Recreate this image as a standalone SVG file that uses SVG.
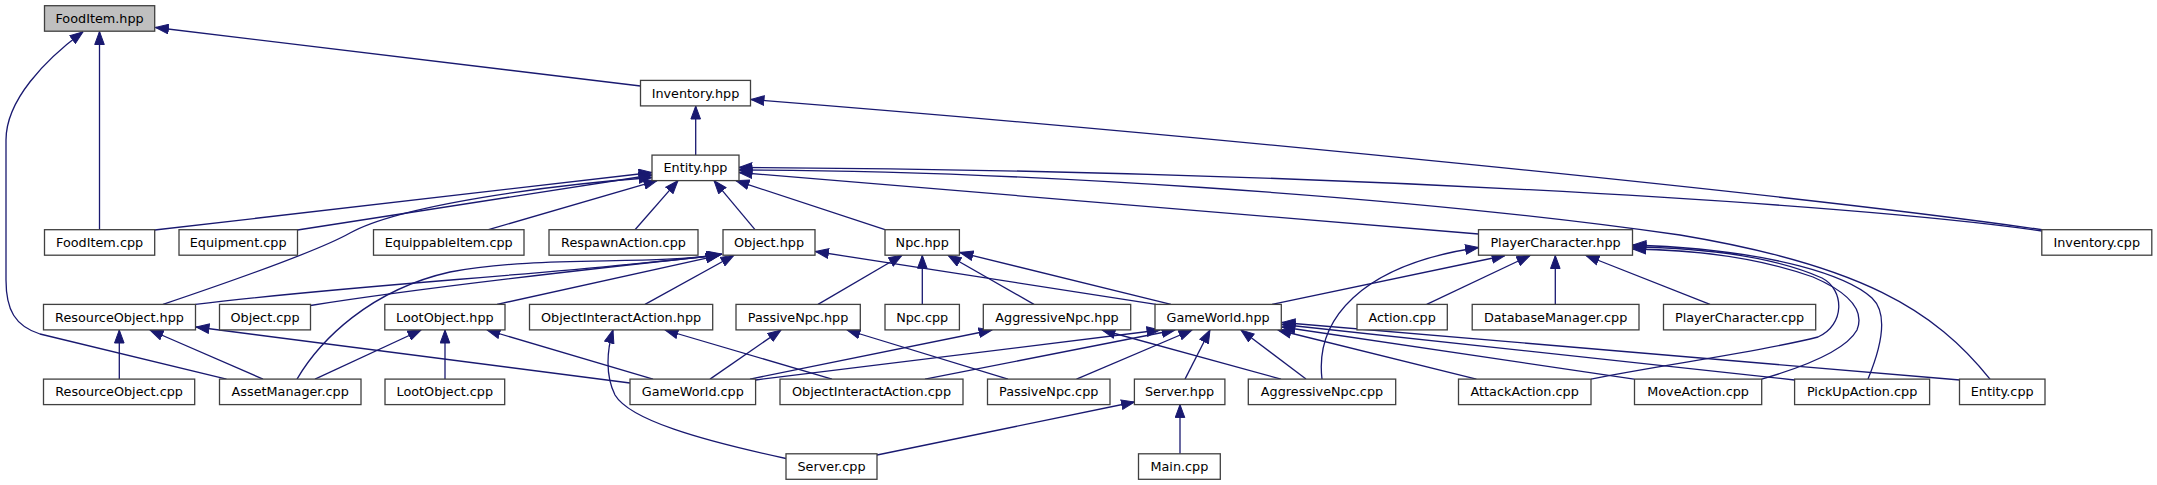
<svg xmlns="http://www.w3.org/2000/svg" width="2157" height="485" viewBox="0 0 2157 485">
<style>
.n rect{fill:#fff;stroke:#404040;stroke-width:1.3}
.n text{font-family:"DejaVu Sans","Liberation Sans",sans-serif;font-size:12.8px;text-anchor:middle;fill:#000}
.e path{fill:none;stroke:#191970;stroke-width:1.3;marker-end:url(#a)}
</style>
<defs>
<marker id="a" markerUnits="userSpaceOnUse" viewBox="0 0 14 11" markerWidth="14" markerHeight="11" refX="13.5" refY="5.5" orient="auto">
<path d="M0.5,0.7 L13.5,5.5 L0.5,10.3 Z" fill="#191970" stroke="#191970" stroke-width="1"/>
</marker>
</defs>
<rect width="2157" height="485" fill="#fff"/>
<g id="edges" class="e">
<path d="M640.5,86 L155.5,27.5"/>
<path d="M99.5,229.7 L99.5,31.5"/>
<path d="M226.5,379.1 L40,334 C15,326 6,310 6,280 L6,140 C6,100 45,60 83,31.8"/>
<path d="M695.7,155.1 L695.7,106"/>
<path d="M2042,229.7 C1800,195 1200,135 751,99.5"/>
<path d="M154.7,230 L652,172.5"/>
<path d="M297.5,230 L652,175"/>
<path d="M163,304.4 C250,275 320,250 350,233 C400,205 550,185 652,177.5"/>
<path d="M488.5,229.7 L657,180.6"/>
<path d="M635,229.7 L678,180.6"/>
<path d="M755,229.7 L714,180.6"/>
<path d="M885,229.7 L736,180.6"/>
<path d="M1478.5,234 L739,172.5"/>
<path d="M2042,231 C1850,203 1300,170 739,167.5"/>
<path d="M1990,379.1 C1935,310 1860,265 1680,235 C1400,195 1000,170 739,170"/>
<path d="M195.5,304.4 C350,285 550,275 720,254.8"/>
<path d="M310.4,305.5 C420,288 580,270 720,255"/>
<path d="M497,304.4 L719,255.3"/>
<path d="M645,304.4 L734,255.3"/>
<path d="M297,379.1 C320,340 370,290 450,272 C540,255 650,266 722,254"/>
<path d="M1156,304.4 L815.5,251.5"/>
<path d="M818,304.4 L902,255.3"/>
<path d="M922.3,304.4 L922.3,255.3"/>
<path d="M1034,304.4 L948,255.3"/>
<path d="M1171,304.4 L960,252.5"/>
<path d="M1272,304.4 L1505,255.5"/>
<path d="M1322,379.1 C1315,320 1360,265 1478.5,247.5"/>
<path d="M1426.7,304.4 L1530,255.5"/>
<path d="M1555.3,304.4 L1555.3,255.5"/>
<path d="M1710,304.4 L1586,255.5"/>
<path d="M1591,379.1 C1660,365 1760,352 1818,337 C1845,325 1845,290 1822,278 C1770,255 1700,248 1633,247"/>
<path d="M1761.7,379.1 C1800,368 1845,352 1857,330 C1865,310 1850,293 1813,277 C1760,258 1700,250 1633,249"/>
<path d="M1868,379.1 C1880,350 1890,315 1872,298 C1850,278 1780,250 1633,245"/>
<path d="M755.6,380 L1160,330"/>
<path d="M750,379.1 L992,330"/>
<path d="M710,379.1 L781,330"/>
<path d="M630,383 L196,327"/>
<path d="M653,379.1 L487,330"/>
<path d="M925,379.1 L1175,330"/>
<path d="M832,379.1 L665,330"/>
<path d="M1008,379.1 L847,330"/>
<path d="M1076.5,379.1 L1192,330"/>
<path d="M1185,379.1 L1210,330"/>
<path d="M1281,379.1 L1102,330"/>
<path d="M1306,379.1 L1241,330"/>
<path d="M1476.4,379.1 L1278,330"/>
<path d="M1634,379.1 L1282,327"/>
<path d="M1794.6,380 L1282,324.5"/>
<path d="M1960,380 L1282,322.5"/>
<path d="M1180,453.8 L1180,404.6"/>
<path d="M877,455 L1134.5,402"/>
<path d="M786,458.5 C700,440 630,420 615,395 C605,375 607,350 613,330"/>
<path d="M263,379.1 L150,330"/>
<path d="M119.3,379.1 L119.3,330"/>
<path d="M315,379.1 L421,330"/>
<path d="M445,379.1 L445,330"/>
</g>
<g id="FoodItem_hpp" class="n"><rect x="44.5" y="5.7" width="110.2" height="25.5" style="fill:#bfbfbf"/><text x="99.6" y="23">FoodItem.hpp</text></g>
<g id="Inventory_hpp" class="n"><rect x="640.5" y="80.4" width="110" height="25.5"/><text x="695.5" y="97.7">Inventory.hpp</text></g>
<g id="Entity_hpp" class="n"><rect x="652" y="155.1" width="87" height="25.5"/><text x="695.5" y="172.4">Entity.hpp</text></g>
<g id="FoodItem_cpp" class="n"><rect x="44.5" y="229.7" width="110.2" height="25.5"/><text x="99.6" y="247">FoodItem.cpp</text></g>
<g id="Equipment_cpp" class="n"><rect x="179" y="229.7" width="118.5" height="25.5"/><text x="238.2" y="247">Equipment.cpp</text></g>
<g id="EquippableItem_cpp" class="n"><rect x="373.5" y="229.7" width="150.5" height="25.5"/><text x="448.7" y="247">EquippableItem.cpp</text></g>
<g id="RespawnAction_cpp" class="n"><rect x="549" y="229.7" width="149" height="25.5"/><text x="623.5" y="247">RespawnAction.cpp</text></g>
<g id="Object_hpp" class="n"><rect x="723" y="229.7" width="92" height="25.5"/><text x="769" y="247">Object.hpp</text></g>
<g id="Npc_hpp" class="n"><rect x="885" y="229.7" width="74.4" height="25.5"/><text x="922.2" y="247">Npc.hpp</text></g>
<g id="PlayerCharacter_hpp" class="n"><rect x="1478.5" y="229.7" width="154" height="25.5"/><text x="1555.5" y="247">PlayerCharacter.hpp</text></g>
<g id="Inventory_cpp" class="n"><rect x="2041.8" y="229.7" width="110" height="25.5"/><text x="2096.8" y="247">Inventory.cpp</text></g>
<g id="ResourceObject_hpp" class="n"><rect x="43.5" y="304.4" width="152" height="25.5"/><text x="119.5" y="321.7">ResourceObject.hpp</text></g>
<g id="Object_cpp" class="n"><rect x="219.5" y="304.4" width="91" height="25.5"/><text x="265" y="321.7">Object.cpp</text></g>
<g id="LootObject_hpp" class="n"><rect x="384.8" y="304.4" width="120.2" height="25.5"/><text x="444.9" y="321.7">LootObject.hpp</text></g>
<g id="ObjectInteractAction_hpp" class="n"><rect x="529.5" y="304.4" width="183.2" height="25.5"/><text x="621.1" y="321.7">ObjectInteractAction.hpp</text></g>
<g id="PassiveNpc_hpp" class="n"><rect x="736" y="304.4" width="124.3" height="25.5"/><text x="798.1" y="321.7">PassiveNpc.hpp</text></g>
<g id="Npc_cpp" class="n"><rect x="885" y="304.4" width="74.4" height="25.5"/><text x="922.2" y="321.7">Npc.cpp</text></g>
<g id="AggressiveNpc_hpp" class="n"><rect x="983.3" y="304.4" width="147.4" height="25.5"/><text x="1057" y="321.7">AggressiveNpc.hpp</text></g>
<g id="GameWorld_hpp" class="n"><rect x="1155" y="304.4" width="126.3" height="25.5"/><text x="1218.1" y="321.7">GameWorld.hpp</text></g>
<g id="Action_cpp" class="n"><rect x="1357" y="304.4" width="90.3" height="25.5"/><text x="1402.1" y="321.7">Action.cpp</text></g>
<g id="DatabaseManager_cpp" class="n"><rect x="1472.2" y="304.4" width="166.8" height="25.5"/><text x="1555.6" y="321.7">DatabaseManager.cpp</text></g>
<g id="PlayerCharacter_cpp" class="n"><rect x="1663.5" y="304.4" width="152.2" height="25.5"/><text x="1739.6" y="321.7">PlayerCharacter.cpp</text></g>
<g id="ResourceObject_cpp" class="n"><rect x="43.5" y="379.1" width="151.2" height="25.5"/><text x="119.1" y="396.4">ResourceObject.cpp</text></g>
<g id="AssetManager_cpp" class="n"><rect x="219.5" y="379.1" width="141.5" height="25.5"/><text x="290.2" y="396.4">AssetManager.cpp</text></g>
<g id="LootObject_cpp" class="n"><rect x="385" y="379.1" width="119.7" height="25.5"/><text x="444.8" y="396.4">LootObject.cpp</text></g>
<g id="GameWorld_cpp" class="n"><rect x="630" y="379.1" width="125.6" height="25.5"/><text x="692.8" y="396.4">GameWorld.cpp</text></g>
<g id="ObjectInteractAction_cpp" class="n"><rect x="780" y="379.1" width="183" height="25.5"/><text x="871.5" y="396.4">ObjectInteractAction.cpp</text></g>
<g id="PassiveNpc_cpp" class="n"><rect x="987.5" y="379.1" width="122.5" height="25.5"/><text x="1048.7" y="396.4">PassiveNpc.cpp</text></g>
<g id="Server_hpp" class="n"><rect x="1134.4" y="379.1" width="90.5" height="25.5"/><text x="1179.6" y="396.4">Server.hpp</text></g>
<g id="AggressiveNpc_cpp" class="n"><rect x="1248.3" y="379.1" width="147.4" height="25.5"/><text x="1322" y="396.4">AggressiveNpc.cpp</text></g>
<g id="AttackAction_cpp" class="n"><rect x="1458.5" y="379.1" width="132.5" height="25.5"/><text x="1524.7" y="396.4">AttackAction.cpp</text></g>
<g id="MoveAction_cpp" class="n"><rect x="1634.5" y="379.1" width="127.2" height="25.5"/><text x="1698.1" y="396.4">MoveAction.cpp</text></g>
<g id="PickUpAction_cpp" class="n"><rect x="1794.6" y="379.1" width="135" height="25.5"/><text x="1862.1" y="396.4">PickUpAction.cpp</text></g>
<g id="Entity_cpp" class="n"><rect x="1959.5" y="379.1" width="85.5" height="25.5"/><text x="2002.2" y="396.4">Entity.cpp</text></g>
<g id="Server_cpp" class="n"><rect x="786" y="453.8" width="91" height="25.5"/><text x="831.5" y="471.1">Server.cpp</text></g>
<g id="Main_cpp" class="n"><rect x="1138.5" y="453.8" width="81.8" height="25.5"/><text x="1179.4" y="471.1">Main.cpp</text></g>
</svg>
